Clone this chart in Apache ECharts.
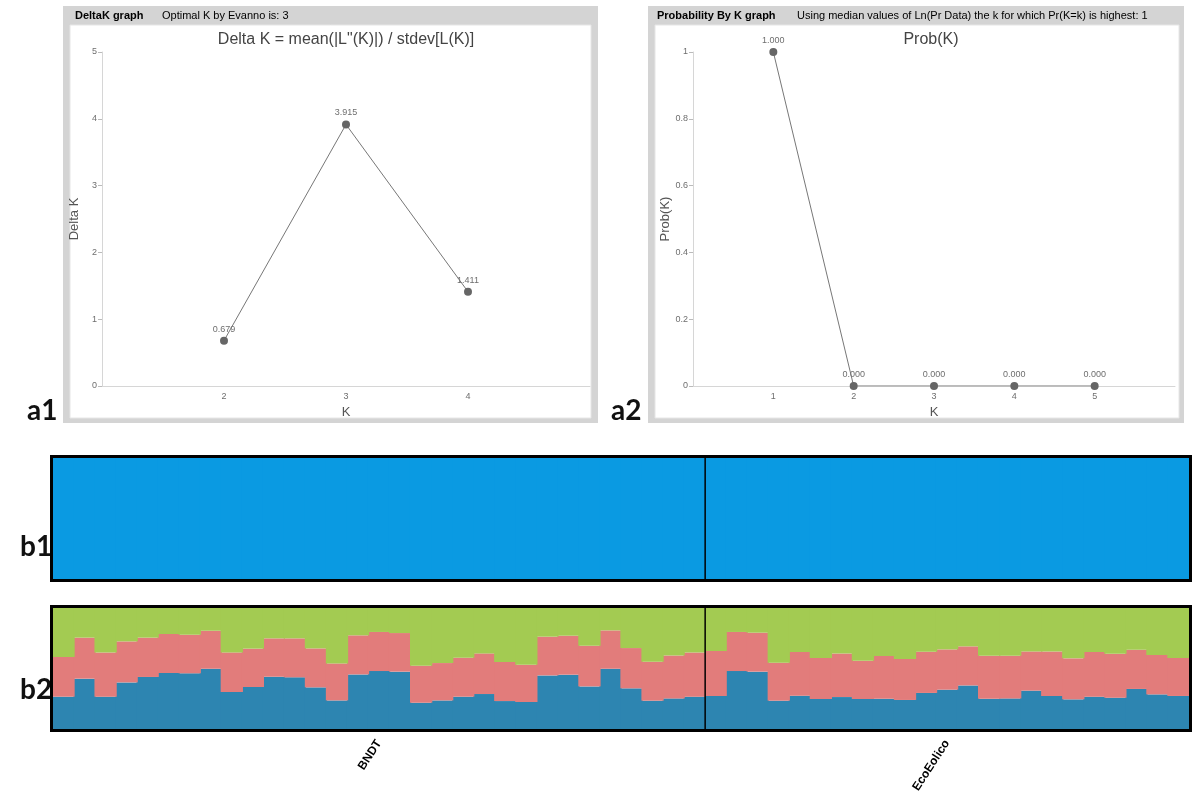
<!DOCTYPE html>
<html><head><meta charset="utf-8">
<script src="https://cdn.jsdelivr.net/npm/echarts@6/dist/echarts.min.js"></script>
<style>html,body{margin:0;padding:0;background:#fff}#c{width:1192px;height:809px}</style>
</head><body><div id="c"></div>
<script>
// ---- data ----
const deltaKk = [2, 3, 4];
const deltaKvalues = [0.679, 3.915, 1.411];
const probKk = [1, 2, 3, 4, 5];
const probKvalues = [1.0, 0.0, 0.0, 0.0, 0.0];
const populations = ['BNDT', 'EcoEolico'];
const populationSizes = [31, 23];
// K = 1 : single cluster membership per individual
const k1Cluster1 = [1,1,1,1,1,1,1,1,1,1,1,1,1,1,1,1,1,1,1,1,1,1,1,1,1,1,1,1,1,1,1,
                    1,1,1,1,1,1,1,1,1,1,1,1,1,1,1,1,1,1,1,1,1,1,1];
// K = 3 : membership per individual (blue, red, green)
const k3Cluster1 = [0.267,0.416,0.267,0.385,0.430,0.463,0.460,0.498,0.306,0.347,0.432,0.427,0.344,0.236,0.451,0.479,
                    0.474,0.217,0.236,0.267,0.289,0.231,0.223,0.443,0.449,0.352,0.498,0.336,0.234,0.253,0.267,
                    0.273,0.479,0.474,0.234,0.275,0.248,0.264,0.248,0.250,0.240,0.298,0.325,0.360,0.250,0.253,
                    0.317,0.273,0.245,0.267,0.259,0.331,0.286,0.273];
const k3Cluster2 = [0.328,0.339,0.366,0.339,0.325,0.322,0.319,0.314,0.327,0.317,0.317,0.322,0.322,0.306,0.323,0.323,
                    0.319,0.306,0.309,0.322,0.336,0.323,0.308,0.320,0.322,0.336,0.317,0.333,0.322,0.355,0.366,
                    0.372,0.323,0.322,0.314,0.361,0.339,0.361,0.316,0.353,0.339,0.341,0.333,0.323,0.356,0.353,
                    0.324,0.368,0.339,0.369,0.363,0.324,0.326,0.314];
const k3Cluster3 = [0.405,0.245,0.367,0.276,0.245,0.215,0.221,0.188,0.367,0.336,0.251,0.251,0.334,0.458,0.226,0.198,
                    0.207,0.477,0.455,0.411,0.375,0.446,0.469,0.237,0.229,0.312,0.185,0.331,0.444,0.392,0.367,
                    0.355,0.198,0.204,0.452,0.364,0.413,0.375,0.436,0.397,0.421,0.361,0.342,0.317,0.394,0.394,
                    0.359,0.359,0.416,0.364,0.378,0.345,0.388,0.413];

// ---- derived ----
const individuals = [];
const popLabelAt = {};
let idx = 0;
populations.forEach((p, pi) => {
  for (let i = 0; i < populationSizes[pi]; i++) individuals.push(p + '_' + (i + 1));
  popLabelAt[idx + Math.floor(populationSizes[pi] / 2)] = p;
  idx += populationSizes[pi];
});
const deltaData = deltaKk.map((k, i) => [k, deltaKvalues[i]]);
const probData = probKk.map((k, i) => [k, probKvalues[i]]);

const FONT = '"Liberation Sans", Arial, sans-serif';
const axisGray = '#d6d6d6';
const lblGray = '#6e6e6e';

function lineYAxis(grid, max, interval, name) {
  return {
    gridIndex: grid, type: 'value', min: 0, max: max, interval: interval,
    axisLine: {show: true, lineStyle: {color: axisGray}},
    axisTick: {show: true, length: 4, lineStyle: {color: '#bbb'}},
    axisLabel: {fontSize: 9, color: lblGray, fontFamily: FONT, margin: 5},
    splitLine: {show: false},
    name: name, nameLocation: 'middle', nameGap: 21,
    nameTextStyle: {fontSize: 13, color: '#555', fontFamily: FONT}
  };
}
function lineXAxis(grid, min, max, show) {
  return {
    gridIndex: grid, type: 'value', min: min, max: max, interval: 1,
    axisLine: {show: true, lineStyle: {color: axisGray}},
    axisTick: {show: false},
    axisLabel: {fontSize: 9, color: lblGray, fontFamily: FONT, margin: 6,
      formatter: v => show.indexOf(v) >= 0 ? String(v) : ''},
    splitLine: {show: false},
    name: 'K', nameLocation: 'middle', nameGap: 20,
    nameTextStyle: {fontSize: 13, color: '#555', fontFamily: FONT}
  };
}
function lineSeries(xi, data) {
  return {
    type: 'line', xAxisIndex: xi, yAxisIndex: xi, data: data,
    symbol: 'circle', symbolSize: 8, z: 5,
    itemStyle: {color: '#666'},
    lineStyle: {color: '#777', width: 1},
    label: {show: true, position: 'top', distance: 3, fontSize: 9, color: lblGray, fontFamily: FONT,
      formatter: p => p.value[1].toFixed(3)}
  };
}
function barSeries(gi, data, color) {
  return {
    type: 'bar', xAxisIndex: gi, yAxisIndex: gi, stack: 's' + gi, data: data,
    barWidth: '106%', itemStyle: {color: color}, silent: true
  };
}
function barX(gi, labels) {
  return {
    gridIndex: gi, type: 'category', data: individuals, boundaryGap: true,
    axisLine: {show: false}, axisTick: {show: false},
    axisLabel: labels ? {
      show: true, interval: 0, rotate: 57, margin: 12, fontSize: 12, fontWeight: 'bold',
      color: '#000', fontFamily: FONT,
      formatter: (v, i) => popLabelAt[i] || ''
    } : {show: false}
  };
}
function barY(gi) {
  return {gridIndex: gi, type: 'value', min: 0, max: 1, show: false};
}

const chart = echarts.init(document.getElementById('c'));
const panelText = (id, x, y, t, bold, size) => ({
  id: id, type: 'text', x: x, y: y, z: 20,
  style: {text: t, fill: '#000', font: (bold ? 'bold ' : '') + size + 'px ' + FONT, verticalAlign: 'middle'}
});
const bigLabel = (id, x, y, t) => ({
  id: id, type: 'text', x: x, y: y, z: 20,
  style: {text: t, fill: '#111', font: 'bold 28px Lato, "Liberation Sans", sans-serif', verticalAlign: 'middle'}
});

chart.setOption({
  animation: false,
  backgroundColor: '#fff',
  grid: [
    {left: 102, top: 52, width: 488, height: 334},
    {left: 693, top: 52, width: 482, height: 334},
    {left: 53, top: 458, width: 1136, height: 121},
    {left: 53, top: 608, width: 1136, height: 121}
  ],
  xAxis: [
    lineXAxis(0, 1, 5, [2, 3, 4]),
    lineXAxis(1, 0, 6, [1, 2, 3, 4, 5]),
    barX(2, false),
    barX(3, true)
  ],
  yAxis: [
    lineYAxis(0, 5, 1, 'Delta K'),
    lineYAxis(1, 1, 0.2, 'Prob(K)'),
    barY(2),
    barY(3)
  ],
  series: [
    lineSeries(0, deltaData),
    lineSeries(1, probData),
    barSeries(2, k1Cluster1, '#0a9ae2'),
    barSeries(3, k3Cluster1, '#2d85b1'),
    barSeries(3, k3Cluster2, '#e27c7b'),
    barSeries(3, k3Cluster3, '#a3cb52')
  ],
  graphic: [
    // panel a1 frame
    {id: 'a1g', type: 'rect', z: -10, shape: {x: 63, y: 6, width: 535, height: 417}, style: {fill: '#d4d4d4'}},
    {id: 'a1w', type: 'rect', z: -9, shape: {x: 70, y: 25, width: 521, height: 393}, style: {fill: '#fff', stroke: '#e6e6e6'}},
    panelText('t1', 75, 16, 'DeltaK graph', true, 11),
    panelText('t2', 162, 16, 'Optimal K by Evanno is: 3', false, 11),
    {id: 't3', type: 'text', x: 346, y: 40, z: 20, style: {text: 'Delta K = mean(|L"(K)|) / stdev[L(K)]', fill: '#444',
      font: '16px ' + FONT, align: 'center', verticalAlign: 'middle'}},
    // panel a2 frame
    {id: 'a2g', type: 'rect', z: -10, shape: {x: 648, y: 6, width: 536, height: 417}, style: {fill: '#d4d4d4'}},
    {id: 'a2w', type: 'rect', z: -9, shape: {x: 655, y: 25, width: 524, height: 393}, style: {fill: '#fff', stroke: '#e6e6e6'}},
    panelText('t4', 657, 16, 'Probability By K graph', true, 11),
    panelText('t5', 797, 16, 'Using median values of Ln(Pr Data) the k for which Pr(K=k) is highest: 1', false, 11),
    {id: 't6', type: 'text', x: 931, y: 40, z: 20, style: {text: 'Prob(K)', fill: '#444',
      font: '16px ' + FONT, align: 'center', verticalAlign: 'middle'}},
    // panel letters
    bigLabel('L1', 27, 411, 'a1'),
    bigLabel('L2', 611, 411, 'a2'),
    bigLabel('L3', 20, 547, 'b1'),
    bigLabel('L4', 20, 690, 'b2'),
    // white strips outside plots to hide bar overflow
    {id: 'm1', type: 'rect', z: 40, shape: {x: 1190, y: 440, width: 10, height: 300}, style: {fill: '#fff'}},
    // bar plot frames
    {id: 'f1', type: 'rect', z: 50, shape: {x: 51.5, y: 456.5, width: 1139, height: 124}, style: {fill: 'none', stroke: '#000', lineWidth: 3}},
    {id: 'f2', type: 'rect', z: 50, shape: {x: 51.5, y: 606.5, width: 1139, height: 124}, style: {fill: 'none', stroke: '#000', lineWidth: 3}},
    {id: 'd1', type: 'line', z: 50, shape: {x1: 0, y1: 458, x2: 0, y2: 579}, style: {stroke: '#000', lineWidth: 1.5}, invisible: true},
    {id: 'd2', type: 'line', z: 50, shape: {x1: 0, y1: 608, x2: 0, y2: 729}, style: {stroke: '#000', lineWidth: 1.5}, invisible: true}
  ]
});

// population dividers, placed from the category scale
const x0 = chart.convertToPixel({gridIndex: 2}, [populationSizes[0] - 1, 0])[0];
const x1 = chart.convertToPixel({gridIndex: 2}, [populationSizes[0], 0])[0];
const xd = (x0 + x1) / 2;
chart.setOption({graphic: [
  {id: 'd1', invisible: false, shape: {x1: xd, y1: 458, x2: xd, y2: 579}},
  {id: 'd2', invisible: false, shape: {x1: xd, y1: 608, x2: xd, y2: 729}}
]});
</script>
</body></html>
